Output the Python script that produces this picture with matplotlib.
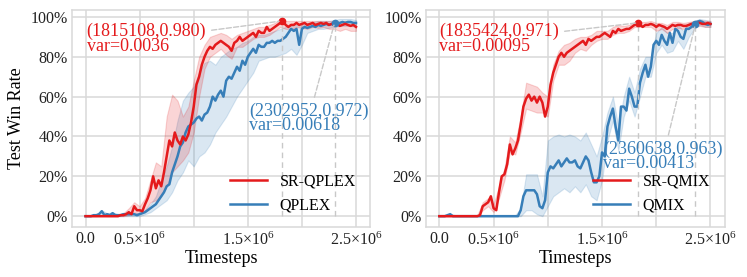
import numpy as np
import matplotlib
matplotlib.use("Agg")
import matplotlib.pyplot as plt

plt.rcParams['font.family'] = ['Liberation Serif', 'DejaVu Serif']
plt.rcParams['mathtext.fontset'] = 'custom'
plt.rcParams['mathtext.rm'] = 'Liberation Serif'
plt.rcParams['mathtext.it'] = 'Liberation Serif:italic'

# timesteps (in 1e6) for the mean curves and for the shaded bands
steps = np.arange(101) * 0.025
band_steps = np.arange(51) * 0.05

# ---- left panel: SR-QPLEX vs QPLEX ----
sr_qplex = [
    0, 0, 0, 0, 0, 0, 0, 0, 0, 0,
    0, 0, 0, 0.005, 0.005, 0.01, 0.02, 0.01, 0.05, 0.03,
    0.03, 0.025, 0.06, 0.09, 0.13, 0.20, 0.14, 0.18, 0.15, 0.22,
    0.30, 0.38, 0.35, 0.42, 0.38, 0.36, 0.40, 0.38, 0.41, 0.47,
    0.55, 0.66, 0.70, 0.76, 0.80, 0.83, 0.85, 0.84, 0.86, 0.87,
    0.88, 0.87, 0.86, 0.85, 0.83, 0.87, 0.88, 0.90, 0.88, 0.89,
    0.90, 0.91, 0.92, 0.90, 0.93, 0.92, 0.92, 0.95, 0.93, 0.94,
    0.95, 0.96, 0.97, 0.98, 0.96, 0.95, 0.96, 0.96, 0.97, 0.96,
    0.965, 0.97, 0.96, 0.965, 0.97, 0.96, 0.965, 0.97, 0.965, 0.97,
    0.96, 0.965, 0.96, 0.965, 0.955, 0.96, 0.965, 0.96, 0.955, 0.96,
    0.95]
qplex = [
    0, 0, 0, 0.005, 0.005, 0.01, 0.025, 0.005, 0.01, 0.005,
    0.015, 0.005, 0.005, 0.005, 0.01, 0.01, 0.01, 0.01, 0.01, 0.005,
    0.01, 0.015, 0.02, 0.03, 0.04, 0.05, 0.06, 0.08, 0.10, 0.12,
    0.15, 0.16, 0.22, 0.26, 0.30, 0.35, 0.37, 0.42, 0.45, 0.46,
    0.47, 0.49, 0.50, 0.48, 0.51, 0.52, 0.55, 0.60, 0.58, 0.61,
    0.63, 0.60, 0.68, 0.70, 0.69, 0.72, 0.75, 0.73, 0.78, 0.76,
    0.80, 0.82, 0.84, 0.82, 0.86, 0.85, 0.85, 0.87, 0.87, 0.88,
    0.87, 0.88, 0.88, 0.89, 0.90, 0.92, 0.94, 0.93, 0.94, 0.86,
    0.94, 0.95, 0.945, 0.95, 0.955, 0.95, 0.96, 0.955, 0.96, 0.965,
    0.96, 0.965, 0.972, 0.965, 0.97, 0.975, 0.97, 0.975, 0.975, 0.97,
    0.97]
sr_qplex_lo = [
    0, 0, 0, 0, 0, 0, 0, 0, 0.005, 0.02,
    0.01, 0.03, 0.07, 0.08, 0.10, 0.15, 0.22, 0.25, 0.28, 0.32,
    0.42, 0.60, 0.74, 0.80, 0.82, 0.84, 0.81, 0.79, 0.85, 0.85,
    0.87, 0.89, 0.90, 0.90, 0.91, 0.93, 0.95, 0.94, 0.94, 0.95,
    0.945, 0.94, 0.95, 0.945, 0.95, 0.94, 0.94, 0.93, 0.94, 0.93,
    0.93]
sr_qplex_hi = [
    0.005, 0.005, 0.005, 0.005, 0.005, 0.005, 0.01, 0.015, 0.04, 0.07,
    0.05, 0.09, 0.18, 0.27, 0.25, 0.50, 0.61, 0.58, 0.50, 0.55,
    0.68, 0.80, 0.86, 0.90, 0.91, 0.92, 0.91, 0.89, 0.91, 0.92,
    0.93, 0.94, 0.95, 0.95, 0.96, 0.97, 0.99, 0.98, 0.98, 0.98,
    0.98, 0.98, 0.98, 0.98, 0.98, 0.98, 0.98, 0.975, 0.98, 0.975,
    0.97]
qplex_lo = [
    0, 0, 0, 0.005, 0, 0, 0, 0, 0, 0,
    0, 0.01, 0.02, 0.04, 0.06, 0.08, 0.12, 0.18, 0.22, 0.28,
    0.25, 0.30, 0.32, 0.36, 0.42, 0.46, 0.50, 0.55, 0.60, 0.64,
    0.68, 0.72, 0.78, 0.79, 0.80, 0.80, 0.81, 0.82, 0.84, 0.81,
    0.86, 0.92, 0.93, 0.94, 0.94, 0.945, 0.95, 0.955, 0.955, 0.955,
    0.95]
qplex_hi = [
    0.005, 0.005, 0.01, 0.03, 0.015, 0.02, 0.01, 0.015, 0.015, 0.015,
    0.015, 0.03, 0.06, 0.10, 0.18, 0.25, 0.35, 0.48, 0.58, 0.62,
    0.65, 0.72, 0.77, 0.78, 0.76, 0.80, 0.82, 0.84, 0.85, 0.87,
    0.88, 0.90, 0.91, 0.91, 0.92, 0.93, 0.94, 0.95, 0.96, 0.96,
    0.97, 0.97, 0.975, 0.98, 0.98, 0.98, 0.985, 0.99, 0.99, 0.99,
    0.985]

# ---- right panel: SR-QMIX vs QMIX ----
sr_qmix = [
    0, 0, 0, 0, 0, 0, 0, 0, 0, 0,
    0, 0, 0, 0, 0, 0.005, 0.05, 0.06, 0.07, 0.10,
    0.04, 0.03, 0.12, 0.20, 0.21, 0.26, 0.36, 0.31, 0.34, 0.38,
    0.46, 0.55, 0.59, 0.61, 0.58, 0.60, 0.57, 0.60, 0.57, 0.50,
    0.55, 0.66, 0.72, 0.76, 0.80, 0.82, 0.80, 0.82, 0.83, 0.84,
    0.85, 0.86, 0.87, 0.88, 0.86, 0.89, 0.88, 0.89, 0.90, 0.90,
    0.91, 0.92, 0.91, 0.90, 0.93, 0.92, 0.94, 0.93, 0.935, 0.94,
    0.94, 0.95, 0.96, 0.971, 0.96, 0.95, 0.96, 0.96, 0.965, 0.96,
    0.95, 0.96, 0.955, 0.95, 0.94, 0.95, 0.96, 0.955, 0.96, 0.96,
    0.955, 0.955, 0.96, 0.965, 0.965, 0.97, 0.97, 0.965, 0.965, 0.97,
    0.965]
qmix = [
    0, 0, 0, 0.005, 0.01, 0, 0, 0, 0, 0,
    0, 0, 0, 0, 0, 0, 0, 0, 0, 0,
    0, 0, 0, 0, 0, 0, 0, 0, 0, 0,
    0.03, 0.10, 0.13, 0.13, 0.13, 0.13, 0.11, 0.05, 0.04, 0.08,
    0.22, 0.25, 0.24, 0.26, 0.28, 0.25, 0.27, 0.29, 0.27, 0.27,
    0.28, 0.25, 0.24, 0.27, 0.30, 0.28, 0.22, 0.17, 0.17, 0.20,
    0.32, 0.30, 0.45, 0.50, 0.54, 0.45, 0.38, 0.55, 0.55, 0.53,
    0.64, 0.60, 0.55, 0.55, 0.67, 0.72, 0.76, 0.70, 0.75, 0.86,
    0.88, 0.86, 0.91, 0.88, 0.86, 0.92, 0.87, 0.94, 0.93, 0.90,
    0.89, 0.94, 0.94, 0.95, 0.963, 0.975, 0.98, 0.975, 0.965, 0.96,
    0.965]
sr_qmix_lo = [
    0, 0, 0, 0, 0, 0, 0, 0, 0.03, 0.05,
    0.02, 0.09, 0.18, 0.32, 0.31, 0.42, 0.54, 0.53, 0.52, 0.52,
    0.50, 0.68, 0.76, 0.76, 0.78, 0.82, 0.84, 0.83, 0.86, 0.88,
    0.89, 0.89, 0.91, 0.92, 0.92, 0.93, 0.95, 0.95, 0.95, 0.95,
    0.93, 0.94, 0.92, 0.94, 0.945, 0.94, 0.945, 0.95, 0.955, 0.95,
    0.95]
sr_qmix_hi = [
    0.005, 0.005, 0.005, 0.005, 0.005, 0.005, 0.005, 0.005, 0.07, 0.09,
    0.06, 0.15, 0.24, 0.40, 0.37, 0.50, 0.67, 0.66, 0.65, 0.62,
    0.60, 0.76, 0.83, 0.86, 0.87, 0.89, 0.90, 0.90, 0.91, 0.93,
    0.93, 0.93, 0.95, 0.96, 0.955, 0.96, 0.975, 0.975, 0.975, 0.98,
    0.97, 0.97, 0.96, 0.975, 0.975, 0.97, 0.975, 0.98, 0.985, 0.98,
    0.98]
qmix_lo = [
    0, 0, 0, 0, 0, 0, 0, 0, 0, 0,
    0, 0, 0, 0, 0, 0, 0.03, 0.03, 0.01, 0.0,
    0.05, 0.10, 0.12, 0.14, 0.12, 0.15, 0.12, 0.16, 0.10, 0.08,
    0.18, 0.38, 0.48, 0.33, 0.50, 0.58, 0.50, 0.60, 0.70, 0.70,
    0.82, 0.86, 0.82, 0.83, 0.88, 0.84, 0.90, 0.94, 0.96, 0.95,
    0.95]
qmix_hi = [
    0.005, 0.005, 0.01, 0.005, 0.005, 0.005, 0.005, 0.005, 0.005, 0.005,
    0.005, 0.005, 0.005, 0.005, 0.005, 0.04, 0.21, 0.21, 0.21, 0.10,
    0.38, 0.40, 0.41, 0.40, 0.41, 0.40, 0.38, 0.42, 0.36, 0.30,
    0.40, 0.52, 0.60, 0.45, 0.60, 0.70, 0.62, 0.74, 0.80, 0.80,
    0.92, 0.95, 0.92, 0.92, 0.96, 0.93, 0.97, 0.98, 0.99, 0.985,
    0.98]

# annotated points: (timestep, win rate, variance)
left_marks = [(1815108, 0.980, '0.0036'), (2302952, 0.972, '0.00618')]
right_marks = [(1835424, 0.971, '0.00095'), (2360638, 0.963, '0.00413')]

red = '#e41a1c'
blue = '#377eb8'
grid_c = '#d9d9d9'

fig = plt.figure(figsize=(7.47, 2.77), dpi=100)
ax1 = fig.add_axes([0.0964, 0.180, 0.399, 0.784])
ax2 = fig.add_axes([0.570, 0.180, 0.400, 0.784])

panels = [
    (ax1, 'SR-QPLEX', 'QPLEX', sr_qplex, qplex, sr_qplex_lo, sr_qplex_hi,
     qplex_lo, qplex_hi, left_marks, [(0.01, 0.89), (1.51, 0.49)]),
    (ax2, 'SR-QMIX', 'QMIX', sr_qmix, qmix, sr_qmix_lo, sr_qmix_hi,
     qmix_lo, qmix_hi, right_marks, [(0.0, 0.89), (1.513, 0.30)]),
]

for (ax, name_a, name_b, ya, yb, alo, ahi, blo, bhi, marks, txt_pos) in panels:
    ax.fill_between(band_steps * 1e6, blo, bhi, color=blue, alpha=0.18, lw=0.8)
    ax.fill_between(band_steps * 1e6, alo, ahi, color=red, alpha=0.18, lw=0.8)
    ax.plot(steps * 1e6, yb, color=blue, lw=1.8, label=name_b)
    ax.plot(steps * 1e6, ya, color=red, lw=1.8, label=name_a)

    for (mx, my, var), col, (tx, ty) in zip(marks, [red, blue], txt_pos):
        ax.plot([mx, mx], [0, my], ls='--', color='#c8c8c8', lw=1, dashes=(4, 3))
        ax.plot(mx, my, 'o', color=col, ms=4.5)
        ax.annotate('(%d,%.3f)\nvar=%s' % (mx, my, var), xy=(mx, my),
                    xytext=(tx * 1e6, ty), ha='left', va='center',
                    color=col, fontsize=13, linespacing=0.8,
                    arrowprops=dict(arrowstyle='-', color='#c8c8c8', lw=1,
                                    linestyle='--'))

    ax.set_xlim(-0.125e6, 2.63e6)
    ax.set_ylim(-0.055, 1.035)
    ax.set_xticks([0, 0.5e6, 1.0e6, 1.5e6, 2.0e6, 2.5e6])
    ax.set_xticklabels(['0.0', '0.5×10$^6$', '', '1.5×10$^6$', '', '2.5×10$^6$'])
    ax.set_yticks([0, 0.2, 0.4, 0.6, 0.8, 1.0])
    ax.set_yticklabels(['0%', '20%', '40%', '60%', '80%', '100%'])
    ax.tick_params(length=0, labelsize=11.5, pad=3, colors='#222222')
    ax.grid(True, color=grid_c, lw=1.1)
    ax.set_axisbelow(True)
    for s in ax.spines.values():
        s.set_color(grid_c)
        s.set_linewidth(1.1)
    ax.set_xlabel('Timesteps', fontsize=13, labelpad=1)

    h, l = ax.get_legend_handles_labels()
    ax.legend(h[::-1], l[::-1], loc='lower right', bbox_to_anchor=(1.0, -0.005),
              frameon=False, fontsize=11.5, handlelength=2.3)

ax1.set_ylabel('Test Win Rate', fontsize=13)

fig.savefig('out.png', dpi=100)
